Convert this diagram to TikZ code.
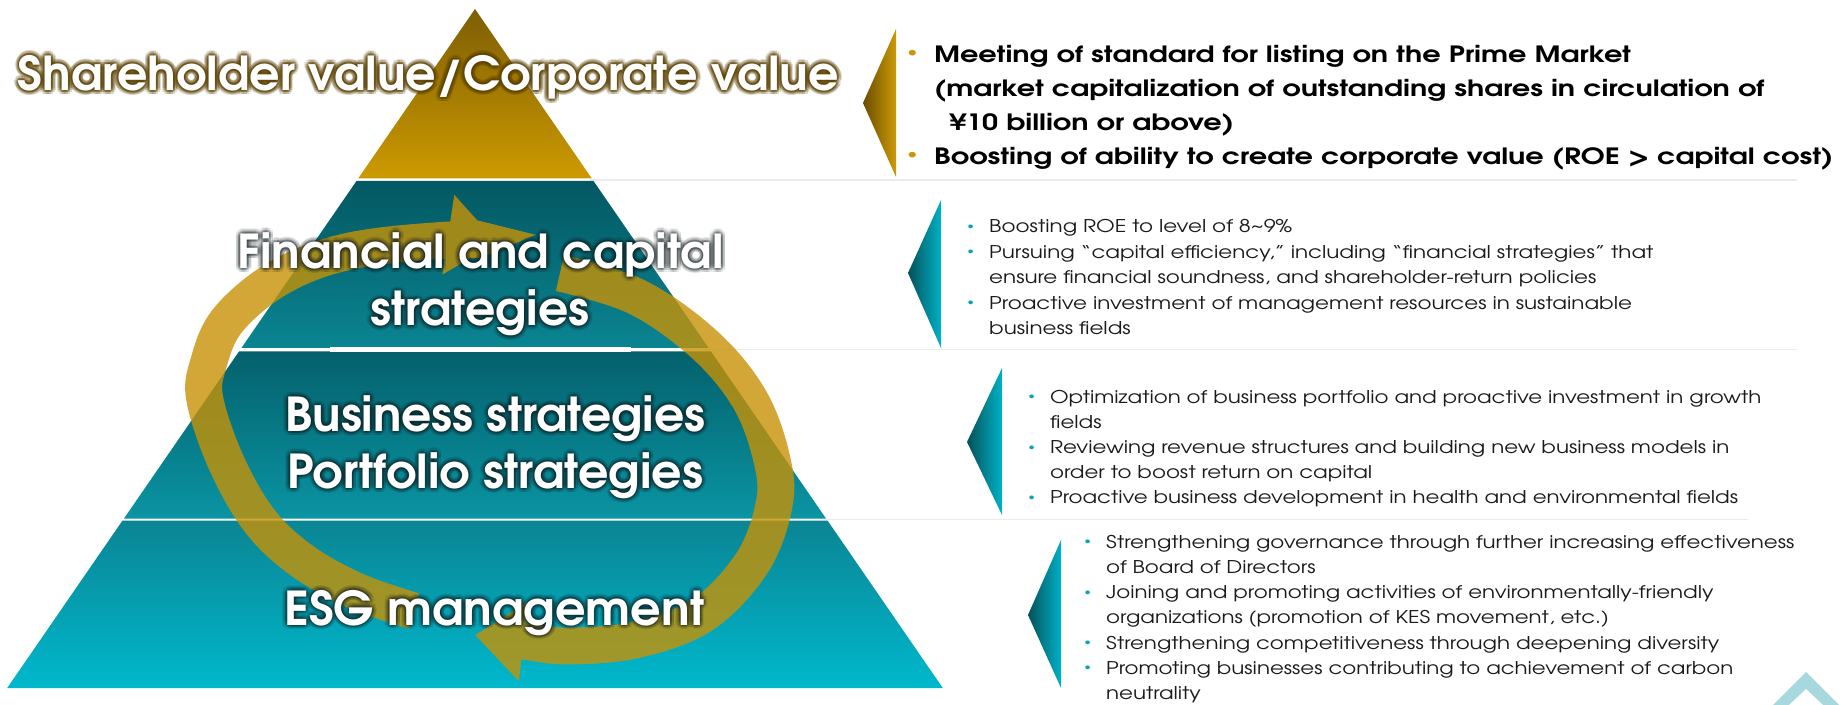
\documentclass[tikz,border=0pt]{standalone}
\usepackage{fontspec}
\usepackage{graphicx}
\usetikzlibrary{arrows.meta}
\newfontfamily\gothic{texgyreadventor}[Extension=.otf, UprightFont=*-regular, BoldFont=*-bold]
\newlength\px \setlength\px{0.02cm}
% palette
\definecolor{goldtop}{HTML}{7D5E05}
\definecolor{goldbot}{HTML}{CD9A00}
\definecolor{tealAtop}{HTML}{035862}
\definecolor{tealAbot}{HTML}{0A8592}
\definecolor{tealBtop}{HTML}{04616C}
\definecolor{tealBbot}{HTML}{0A94A3}
\definecolor{tealCtop}{HTML}{0A8594}
\definecolor{tealCbot}{HTML}{00B8CC}
\definecolor{chgoldL}{HTML}{6B4D00}
\definecolor{chgoldR}{HTML}{CC9A08}
\definecolor{chtealL}{HTML}{05505A}
\definecolor{chtealR}{HTML}{00B2C6}
\definecolor{arrowgold}{HTML}{C79206}
\definecolor{sepgray}{HTML}{EBEBEB}
\definecolor{bulgold}{HTML}{C9980A}
\definecolor{bulteal}{HTML}{0AA3B5}
\definecolor{icon}{HTML}{A5D9DE}
\definecolor{bodytext}{HTML}{1A1A1A}
\definecolor{glowbrown}{HTML}{5A4000}
\definecolor{glowdark}{HTML}{101A1C}
% bullets
\newcommand\gbul{\makebox[11.9pt][l]{\textcolor{bulgold}{\raisebox{0.29em}{\scalebox{0.6}{\textbullet}}}}}
\newcommand\tbul{\makebox[10.2pt][l]{\textcolor{bulteal}{\raisebox{0.2em}{\scalebox{0.6}{\textbullet}}}}}
% white title with a soft halo: name, x, y, halo colour, halo opacity, text
\newcommand\glowttl[6]{%
  \foreach \ga [count=\gj] in {0,30,...,330}{%
    \foreach \gr [count=\gi] in {2,4.5}{%
      \node[ttl, text=#4, text opacity=#5] (#1g\gj-\gi) at ({#2+\gr*cos(\ga)},{#3+\gr*sin(\ga)}) {#6};
    }%
  }%
  \node[ttl] (#1) at (#2,#3) {#6};
}
\begin{document}
\begin{tikzpicture}[x=0.02cm, y=-0.02cm,
  ttl/.style={font=\gothic\bfseries\fontsize{26.6}{30}\selectfont, text=white, inner sep=0pt, anchor=base west},
  sep/.style={draw=sepgray, line width=1.1pt},
  band/.style={draw=arrowgold, line width=21pt, line cap=butt, -{Triangle[length=28pt,width=44pt]}},
  blk/.style={inner sep=0pt, anchor=base west, font=\gothic},
]
\fill[white] (0,0) rectangle (1841,705);
\useasboundingbox (0,0) rectangle (1841,705);

% row separators
\draw[sep] (590,180) -- (1797,180);
\draw[sep] (708,349.5) -- (1797,349.5);
\draw[sep] (824,519.5) -- (1748,519.5);

% pyramid tiers
\shade[top color=goldtop, bottom color=goldbot] (475,9) -- (591.8,178.5) -- (358.2,178.5) -- cycle;
\shade[top color=tealAtop, bottom color=tealAbot] (356.5,181) -- (593.5,181) -- (708.6,348) -- (241.4,348) -- cycle;
\shade[top color=tealBtop, bottom color=tealBbot] (239,351.5) -- (711,351.5) -- (826,518.5) -- (124,518.5) -- cycle;
\shade[top color=tealCtop, bottom color=tealCbot] (122.4,520.7) -- (827.6,520.7) -- (942.8,688) -- (7.2,688) -- cycle;
\fill[white] (330,346.8) rectangle (631,352.2);

% pointers towards the text blocks
\shade[left color=chgoldL, right color=chgoldR] (896,29) -- (896,177) -- (863,103) -- cycle;
\shade[left color=chtealL, right color=chtealR] (941,200) -- (941,348) -- (908,273) -- cycle;
\shade[left color=chtealL, right color=chtealR] (1002,368) -- (1002,515) -- (967,442) -- cycle;
\shade[left color=chtealL, right color=chtealR] (1061,540) -- (1061,688) -- (1028,615) -- cycle;

% circular cycle arrows
\begin{scope}[transparency group, opacity=0.8]
\draw[band] plot[smooth, tension=0.6] coordinates {(414,611) (356,591) (301,560) (259,520) (226,462) (205,400) (208,365) (228,320) (280,277) (350,251) (449,240) (497,242)};
\draw[band] plot[smooth, tension=0.6] coordinates {(560,273) (637,297) (705,345) (750,400) (772,460) (774,505) (752,563) (702,615) (635,640) (567,646) (523,641) (475,635)};
\end{scope}

% tier titles
\glowttl{tA}{17.6}{90.5}{glowbrown}{0.2}{\resizebox{821\px}{\height}{Shareholder value/Corporate value}}
\glowttl{tB}{237.3}{268.5}{glowdark}{0.1}{\resizebox{486\px}{\height}{Financial and capital}}
\glowttl{tC}{370}{326}{glowdark}{0.1}{\resizebox{219\px}{\height}{strategies}}
\glowttl{tD}{285}{431.5}{glowdark}{0.1}{\resizebox{420\px}{\height}{Business strategies}}
\glowttl{tE}{286.7}{488.3}{glowdark}{0.1}{\resizebox{416\px}{\height}{Portfolio strategies}}
\glowttl{tF}{284}{625}{glowdark}{0.1}{\resizebox{420\px}{\height}{ESG management}}

% text blocks
\node[blk, text=black] (bA) at (907,63) {\resizebox{926\px}{\height}{\fontsize{12.76}{19.28}\selectfont\bfseries
\begin{tabular}[t]{@{}l@{}l@{}}
\gbul & Meeting of standard for listing on the Prime Market\\
 & (market capitalization of outstanding shares in circulation of\\
 & \hspace{0.55em}¥10 billion or above)\\
\gbul & Boosting of ability to create corporate value (ROE > capital cost)
\end{tabular}}};

\node[blk, text=bodytext] (bB) at (967,233) {\resizebox{686\px}{\height}{\fontsize{10}{14.45}\selectfont
\begin{tabular}[t]{@{}l@{}l@{}}
\tbul & Boosting ROE to level of 8\textasciitilde9\%\\
\tbul & Pursuing “capital efficiency,” including “financial strategies” that\\
 & ensure financial soundness, and shareholder-return policies\\
\tbul & Proactive investment of management resources in sustainable\\
 & business fields
\end{tabular}}};

\node[blk, text=bodytext] (bC) at (1028,403.3) {\resizebox{733\px}{\height}{\fontsize{10}{14.3}\selectfont
\begin{tabular}[t]{@{}l@{}l@{}}
\tbul & Optimization of business portfolio and proactive investment in growth\\
 & fields\\
\tbul & Reviewing revenue structures and building new business models in\\
 & order to boost return on capital\\
\tbul & Proactive business development in health and environmental fields
\end{tabular}}};

\node[blk, text=bodytext] (bD) at (1084,548.3) {\resizebox{710\px}{\height}{\fontsize{10}{14.35}\selectfont
\begin{tabular}[t]{@{}l@{}l@{}}
\tbul & Strengthening governance through further increasing effectiveness\\
 & of Board of Directors\\
\tbul & Joining and promoting activities of environmentally-friendly\\
 & organizations (promotion of KES movement, etc.)\\
\tbul & Strengthening competitiveness through deepening diversity\\
\tbul & Promoting businesses contributing to achievement of carbon\\
 & neutrality
\end{tabular}}};

% page-top marker in the corner
\fill[icon] (1773,705) -- (1806,672) -- (1839,705) -- cycle;
\fill[white] (1789,705) -- (1806,689) -- (1823,705) -- cycle;
\end{tikzpicture}
\end{document}
